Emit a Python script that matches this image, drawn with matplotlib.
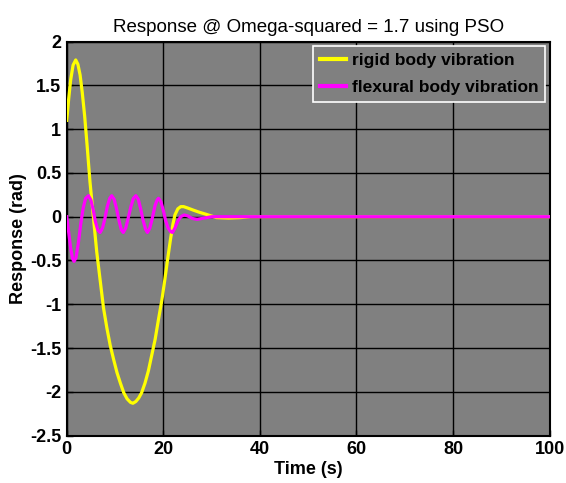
import matplotlib
matplotlib.use("Agg")
import matplotlib.pyplot as plt
from matplotlib.ticker import FormatStrFormatter

# Data
t_rigid = [0, 0.4, 0.8, 1.3, 1.85, 2.3, 2.75, 3.2, 3.7, 4.2, 4.8, 5.5, 6.2, 6.9, 7.6,
           8.3, 9.0, 9.7, 10.4, 11.1, 11.8, 12.5, 13.2, 13.7, 14.3, 14.9, 15.5, 16.2,
           16.9, 17.6, 18.3, 19.0, 19.7, 20.3, 20.9, 21.5, 22.0, 22.4, 23.0, 23.6,
           24.2, 25.0, 26.2, 27.5, 29, 31, 33.5, 36, 38, 100]
rigid = [1.10, 1.35, 1.56, 1.73, 1.79, 1.74, 1.62, 1.42, 1.15, 0.82, 0.40, 0.0, -0.40,
         -0.72, -1.04, -1.27, -1.47, -1.63, -1.78, -1.90, -2.01, -2.08, -2.12, -2.13,
         -2.11, -2.07, -2.01, -1.90, -1.76, -1.58, -1.40, -1.17, -0.95, -0.72, -0.48,
         -0.25, -0.08, 0.02, 0.09, 0.115, 0.115, 0.10, 0.075, 0.05, 0.025, -0.01,
         -0.015, -0.01, 0.0, 0.0]

t_flex = [0, 0.4, 0.8, 1.2, 1.5, 1.9, 2.4, 2.9, 3.4, 3.9, 4.5, 5.0, 5.5, 5.9, 6.4, 6.9,
          7.4, 7.9, 8.4, 8.9, 9.3, 9.8, 10.3, 10.8, 11.3, 11.7, 12.2, 12.7, 13.3, 13.8,
          14.3, 14.8, 15.3, 15.8, 16.3, 16.7, 17.2, 17.7, 18.3, 18.7, 19.0, 19.5, 20.0,
          20.5, 21.0, 21.5, 21.9, 22.4, 23.0, 23.6, 24.3, 25.0, 26.0, 27.0, 28.5, 30,
          40, 100]
flex = [0, -0.18, -0.36, -0.48, -0.51, -0.47, -0.30, -0.08, 0.10, 0.21, 0.24, 0.19,
        0.07, -0.05, -0.15, -0.18, -0.13, -0.02, 0.12, 0.21, 0.24, 0.20, 0.09, -0.04,
        -0.15, -0.18, -0.13, -0.02, 0.12, 0.21, 0.24, 0.20, 0.09, -0.04, -0.14, -0.18,
        -0.13, -0.02, 0.13, 0.19, 0.21, 0.17, 0.07, -0.05, -0.13, -0.17, -0.18, -0.13,
        -0.05, 0.00, 0.02, 0.01, -0.02, -0.03, -0.015, 0, 0, 0]

x_ticks = [0, 20, 40, 60, 80, 100]
y_ticks = [-2.5, -2, -1.5, -1, -0.5, 0, 0.5, 1, 1.5, 2]

plt.rcParams['font.family'] = ['Liberation Sans', 'DejaVu Sans']

fig = plt.figure(figsize=(5.66, 4.83), dpi=100)
ax = fig.add_axes([0.118, 0.098, 0.853, 0.816])
ax.set_facecolor('#808080')

ax.plot(t_rigid, rigid, color='#ffff00', lw=2.3, label='rigid body vibration', zorder=3)
ax.plot(t_flex, flex, color='#ff00ff', lw=2.3, label='flexural body vibration', zorder=4)

ax.set_xlim(0, 100)
ax.set_ylim(-2.5, 2)
ax.set_xticks(x_ticks)
ax.set_yticks(y_ticks)
ax.yaxis.set_major_formatter(FormatStrFormatter('%g'))
ax.grid(True, color='black', lw=1.0, ls='-')
ax.set_axisbelow(True)
ax.tick_params(direction='in', length=4, width=1, labelsize=13)
ax.tick_params(axis='x', pad=4)
ax.tick_params(axis='y', pad=4)
for lab in ax.get_xticklabels() + ax.get_yticklabels():
    lab.set_fontweight('bold')
for s in ax.spines.values():
    s.set_linewidth(1.5)
    s.set_color('black')

ax.set_xlabel('Time (s)', fontsize=13, fontweight='bold', labelpad=2)
ax.set_ylabel('Response (rad)', fontsize=13, fontweight='bold', labelpad=2)
ax.set_title('Response @ Omega-squared = 1.7 using PSO', fontsize=13.5, pad=7)

leg = ax.legend(loc='upper right', prop={'weight': 'bold', 'size': 12.5},
                facecolor='#808080', edgecolor='white', fancybox=False, framealpha=1,
                handlelength=1.5, handletextpad=0.3, borderpad=0.4, labelspacing=0.7,
                borderaxespad=0.25)
leg.get_frame().set_linewidth(1.2)
for ln in leg.get_lines():
    ln.set_linewidth(3)

fig.savefig('out.png', dpi=100, facecolor='white')
